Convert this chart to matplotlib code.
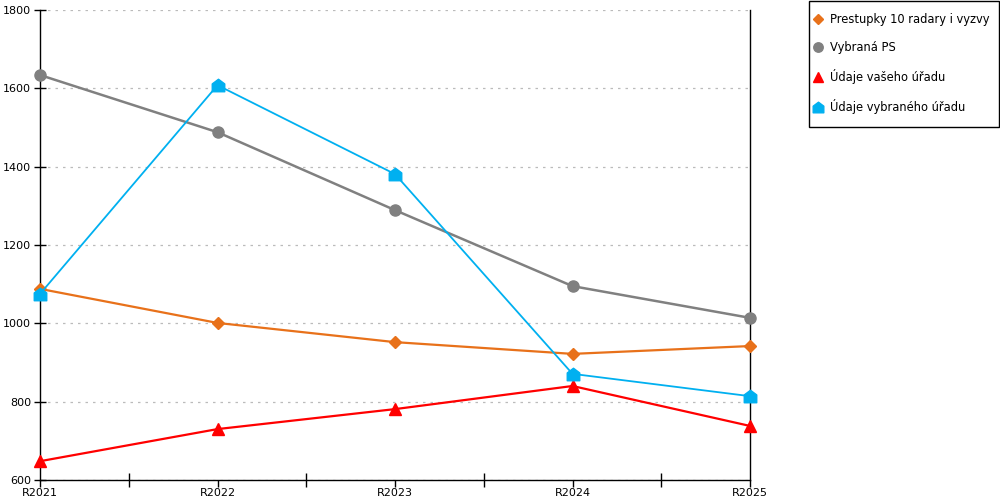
import matplotlib
matplotlib.use("Agg")
import matplotlib.pyplot as plt
from matplotlib.path import Path
from matplotlib.patches import Rectangle
import numpy as np

# data
years = ["R2021", "R2022", "R2023", "R2024", "R2025"]
prestupky = [1088, 1001, 952, 922, 942]
vybrana_ps = [1634, 1488, 1289, 1095, 1014]
vas_urad = [648, 730, 781, 840, 738]
vybrany_urad = [1075, 1608, 1381, 871, 814]

plt.rcParams['font.family'] = ['DejaVu Sans']

# house-shaped marker for the last series
house = Path([(-1, -1), (1, -1), (1, 0.25), (0, 1), (-1, 0.25), (-1, -1)],
             [Path.MOVETO, Path.LINETO, Path.LINETO, Path.LINETO, Path.LINETO, Path.CLOSEPOLY])

fig = plt.figure(figsize=(10, 5), dpi=100)
ax = fig.add_axes([0.04, 0.04, 0.71, 0.94])

x = np.arange(len(years))
ax.plot(x, prestupky, color="#e8711a", lw=1.6, marker="D", ms=6, label="Prestupky 10 radary i vyzvy", clip_on=False, zorder=3)
ax.plot(x, vybrana_ps, color="#808080", lw=1.8, marker="o", ms=8, label="Vybraná PS", clip_on=False, zorder=3)
ax.plot(x, vas_urad, color="#ff0000", lw=1.6, marker="^", ms=9, label="Údaje vašeho úřadu", clip_on=False, zorder=3)
ax.plot(x, vybrany_urad, color="#00b0f0", lw=1.3, marker=house, ms=9, label="Údaje vybraného úřadu", clip_on=False, zorder=4)

ax.set_xlim(0, len(years) - 1)
ax.set_ylim(600, 1800)
ax.set_yticks(range(600, 1801, 200))
ax.set_xticks(x)
ax.set_xticklabels(years)
ax.set_xticks(x[:-1] + 0.5, minor=True)

ax.grid(axis="y", color="#bbbbbb", linestyle=(0, (2, 4)), lw=0.9)
ax.set_axisbelow(True)

ax.spines["top"].set_visible(False)
for s in ["left", "bottom", "right"]:
    ax.spines[s].set_color("black")
    ax.spines[s].set_linewidth(1)

ax.tick_params(axis="y", direction="inout", length=9, width=1, labelsize=8, pad=2)
ax.tick_params(axis="x", which="major", direction="out", length=5, width=1, labelsize=8, pad=0.5)
ax.tick_params(axis="x", which="minor", direction="inout", length=10, width=1)

# legend entries without frame, box drawn separately
leg = fig.legend(loc="upper left", bbox_to_anchor=(0.8145, 0.974), fontsize=8.3,
                 frameon=False, handlelength=0.6, handletextpad=0.75,
                 labelspacing=1.3, borderpad=0, borderaxespad=0, markerscale=0.85)
for h in leg.legend_handles:
    h.set_linestyle("")
fig.patches.append(Rectangle((0.8085, 0.747), 0.1905, 0.252, transform=fig.transFigure,
                             fill=False, edgecolor="black", lw=1))

fig.savefig("out.png", dpi=100)
